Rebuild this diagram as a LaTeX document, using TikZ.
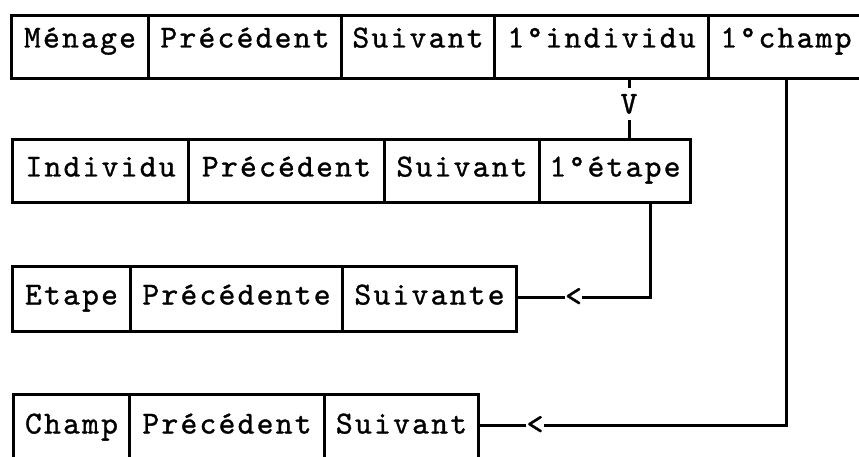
\documentclass[tikz,border=0pt]{standalone}
\usepackage{fontspec}
% typewriter faces: spaced-out for the record fields, plain for the link marks
\newfontfamily\cellfont{lmmono10-regular}[Extension=.otf, LetterSpace=7, FakeBold=1]
\newfontfamily\linkfont{lmmono10-regular}[Extension=.otf, FakeBold=1]
\begin{document}
\begin{tikzpicture}[x=1pt, y=-1pt,
  cell/.style={draw, line width=3pt, rectangle, inner sep=0pt,
    anchor=north west, font=\cellfont\fontsize{32}{34}\selectfont},
  row1/.style={cell, text height=32pt, text depth=31pt},
  row2/.style={cell, text height=37pt, text depth=26pt},
  row3/.style={cell, text height=38pt, text depth=27pt},
  row4/.style={cell, text height=39pt, text depth=28pt},
  glyph/.style={inner sep=0pt, font=\linkfont\fontsize{32}{34}\selectfont},
  conn/.style={line width=3pt}]
\useasboundingbox (0,0) rectangle (859,457);
\clip (0,0) rectangle (859,457);
\fill[white] (0,0) rectangle (859,457);

% household record
\node[row1, minimum width=137pt] (m1) at (10,14)  {Ménage};
\node[row1, minimum width=193pt] (m2) at (147,14) {Précédent};
\node[row1, minimum width=153pt] (m3) at (340,14) {Suivant};
\node[row1, minimum width=214pt] (m4) at (493,14) {1°individu};
\node[row1, minimum width=155pt] (m5) at (707,14) {1°champ};

% person record
\node[row2, minimum width=176pt] (i1) at (11,138)  {Individu};
\node[row2, minimum width=196pt] (i2) at (187,138) {Précédent};
\node[row2, minimum width=155pt] (i3) at (383,138) {Suivant};
\node[row2, minimum width=151pt] (i4) at (538,138) {1°étape};

% stage record
\node[row3, minimum width=118pt] (e1) at (11,265)  {Etape};
\node[row3, minimum width=212pt] (e2) at (129,265) {Précédente};
\node[row3, minimum width=174pt] (e3) at (341,265) {Suivante};

% field record
\node[row4, minimum width=116pt] (c1) at (12,393)  {Champ};
\node[row4, minimum width=195pt] (c2) at (128,393) {Précédent};
\node[row4, minimum width=154pt] (c3) at (323,393) {Suivant};

% link marks
\node[glyph, minimum height=32pt] (vv) at (629,104) {V};
\node[glyph] (lt1) at (573.5,297) {<};
\node[glyph] (lt2) at (535,425) {<};
\coordinate (bx) at (650,0);
\coordinate (cx) at (786,0);

% links
\draw[conn] (m4.south -| vv) -- (vv.north);
\draw[conn] (vv.south) -- (vv |- i4.north);
\draw[conn] (i4.south -| bx) |- (lt1.east);
\draw[conn] (lt1.west) -- (lt1 -| e3.east);
\draw[conn] (m5.south -| cx) |- (lt2.east);
\draw[conn] (lt2.west) -- (lt2 -| c3.east);
\end{tikzpicture}
\end{document}
